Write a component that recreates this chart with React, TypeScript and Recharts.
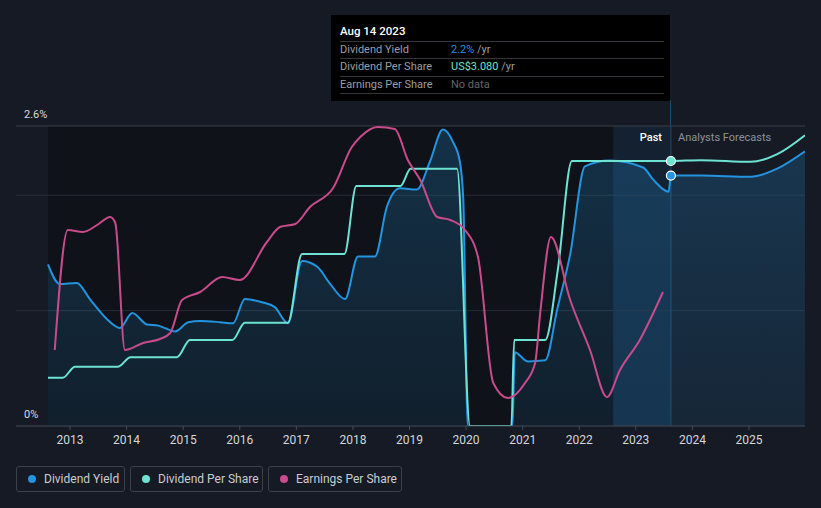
import React from "react";
import {
  ComposedChart,
  Area,
  Line,
  XAxis,
  YAxis,
  ReferenceArea,
  ReferenceLine,
  ReferenceDot,
} from "recharts";

// Dividend yield (%)
const yieldYears = [
  2012.61, 2012.82, 2013.12, 2013.35, 2013.71, 2013.88, 2014.1, 2014.36, 2014.56, 2014.86,
  2015.09, 2015.3, 2015.65, 2015.88, 2016.09, 2016.41, 2016.62, 2016.85, 2017.1, 2017.37,
  2017.6, 2017.86, 2018.09, 2018.39, 2018.6, 2018.83, 2019.13, 2019.36, 2019.59, 2019.77,
  2019.89, 2019.95, 2020.03, 2020.82, 2020.86, 2021.09, 2021.4, 2021.61, 2021.84, 2022.1,
  2022.54, 2023.13, 2023.3, 2023.58, 2023.62, 2024.15, 2025.03, 2025.5, 2025.99,
];
const yieldValues = [
  1.4, 1.23, 1.24, 1.1, 0.9, 0.85, 0.98, 0.88, 0.87, 0.82,
  0.9, 0.91, 0.9, 0.89, 1.1, 1.07, 1.03, 0.89, 1.43, 1.38,
  1.23, 1.1, 1.47, 1.47, 1.9, 2.06, 2.05, 2.29, 2.57, 2.46,
  2.29, 1.97, 0, 0, 0.64, 0.56, 0.57, 1.01, 1.49, 2.25,
  2.3, 2.24, 2.14, 2.03, 2.17, 2.17, 2.16, 2.23, 2.38,
];

// Dividend per share (US$)
const dpsYears = [
  2012.61, 2012.87, 2013.09, 2013.85, 2014.07, 2014.89, 2015.12, 2015.87, 2016.09, 2016.85,
  2017.1, 2017.85, 2018.06, 2018.84, 2019.02, 2019.84, 2020.07, 2020.8, 2020.85, 2021.4,
  2021.62, 2021.87, 2022.5, 2023.62, 2024.15, 2025.03, 2025.5, 2025.99,
];
const dpsValues = [
  0.56, 0.56, 0.69, 0.69, 0.8, 0.8, 1.0, 1.0, 1.2, 1.2,
  2.0, 2.0, 2.79, 2.79, 2.99, 2.99, 0, 0, 1.0, 1.0,
  1.81, 3.08, 3.08, 3.08, 3.09, 3.07, 3.16, 3.38,
];

// Earnings per share (US$)
const epsYears = [
  2012.73, 2012.96, 2013.23, 2013.48, 2013.71, 2013.8, 2013.97, 2014.29, 2014.59, 2014.77,
  2014.98, 2015.3, 2015.69, 2016.0, 2016.48, 2016.71, 2016.98, 2017.24, 2017.65, 2017.98,
  2018.13, 2018.44, 2018.74, 2018.97, 2019.19, 2019.49, 2019.72, 2019.98, 2020.21, 2020.48,
  2020.74, 2021.04, 2021.22, 2021.31, 2021.5, 2021.84, 2022.19, 2022.49, 2022.72, 2023.07,
  2023.48,
];
const epsValues = [
  1.52, 3.92, 3.88, 4.02, 4.18, 4.06, 1.52, 1.66, 1.74, 1.86,
  2.52, 2.68, 2.98, 2.92, 3.68, 3.98, 4.04, 4.38, 4.76, 5.58,
  5.78, 5.98, 5.94, 5.32, 4.92, 4.18, 4.12, 3.92, 3.38, 0.86,
  0.56, 0.86, 1.26, 2.26, 3.78, 2.52, 1.52, 0.58, 1.12, 1.72,
  2.68,
];

const yearTicks = [2013, 2014, 2015, 2016, 2017, 2018, 2019, 2020, 2021, 2022, 2023, 2024, 2025];
const yieldTicks = [0, 2.6];
const gridValues = [1, 2];

const dataStart = 2012.61;
const pastStart = 2022.6;
const today = 2023.62;
const todayYield = 2.17;
const todayDps = 3.08;

const yieldData = yieldYears.map((t, i) => ({ t, v: yieldValues[i] }));
const dpsData = dpsYears.map((t, i) => ({ t, v: dpsValues[i] }));
const epsData = epsYears.map((t, i) => ({ t, v: epsValues[i] }));

const BG = "#151a24";
const BLUE = "#2394df";
const TEAL = "#6ce3d3";
const PINK = "#c84b8c";
const FONT = "Roboto, 'Noto Sans', sans-serif";

const YTick = (props: any) => {
  const { y, payload } = props;
  return (
    <text x={24} y={y - 8} fill="#d8dbe0" fontSize={11} fontFamily={FONT}>
      {payload.value === 0 ? "0%" : `${payload.value}%`}
    </text>
  );
};

const legendItems = [
  { label: "Dividend Yield", color: BLUE, left: 16, width: 109 },
  { label: "Dividend Per Share", color: TEAL, left: 130, width: 133 },
  { label: "Earnings Per Share", color: PINK, left: 268, width: 134 },
];

export default function App() {
  return (
    <div
      style={{
        position: "absolute",
        left: 0,
        top: 0,
        width: 821,
        height: 508,
        background: BG,
        fontFamily: FONT,
        overflow: "hidden",
      }}
    >
      <ComposedChart
        width={821}
        height={508}
        margin={{ top: 126, right: 16, bottom: 52, left: 16 }}
      >
        <defs>
          <linearGradient id="yieldFill" x1="0" y1="0" x2="0" y2="1">
            <stop offset="0%" stopColor={BLUE} stopOpacity={0.24} />
            <stop offset="100%" stopColor={BLUE} stopOpacity={0.1} />
          </linearGradient>
          <linearGradient id="bandFill" x1="0" y1="0" x2="0" y2="1">
            <stop offset="0%" stopColor="#1d4468" stopOpacity={0.3} />
            <stop offset="100%" stopColor="#1d4c78" stopOpacity={0.42} />
          </linearGradient>
        </defs>
        <XAxis
          xAxisId="x"
          dataKey="t"
          type="number"
          domain={[2012.045, 2025.99]}
          allowDataOverflow
          ticks={yearTicks}
          height={30}
          stroke="#474c55"
          tickSize={4}
          tickMargin={5}
          tick={{ fill: "#d4d7dc", fontSize: 12, fontFamily: FONT }}
        />
        <YAxis
          yAxisId="yield"
          domain={[0, 2.6]}
          allowDataOverflow
          ticks={yieldTicks}
          mirror
          axisLine={false}
          tickLine={false}
          tick={<YTick />}
        />
        <YAxis yAxisId="dps" domain={[0, 3.4868]} allowDataOverflow hide />
        <YAxis yAxisId="eps" domain={[0, 6]} allowDataOverflow hide />

        <ReferenceArea
          xAxisId="x"
          yAxisId="yield"
          x1={dataStart}
          x2={today}
          y1={0}
          y2={2.6}
          fill="#0f1218"
          fillOpacity={1}
          stroke="none"
          zIndex={-300}
        />
        <ReferenceArea
          xAxisId="x"
          yAxisId="yield"
          x1={pastStart}
          x2={today}
          y1={0}
          y2={2.6}
          fill="url(#bandFill)"
          fillOpacity={1}
          stroke="none"
          zIndex={-250}
        />
        {gridValues.map((g) => (
          <ReferenceLine
            key={g}
            xAxisId="x"
            yAxisId="yield"
            y={g}
            stroke="#272c35"
            strokeWidth={1}
            zIndex={-200}
          />
        ))}
        <ReferenceLine
          xAxisId="x"
          yAxisId="yield"
          y={2.6}
          stroke="#3a3f48"
          strokeWidth={1}
          zIndex={-200}
        />
        <ReferenceLine
          xAxisId="x"
          yAxisId="yield"
          x={today}
          stroke="#1d4a70"
          strokeWidth={1}
          zIndex={-150}
        />

        <Area
          xAxisId="x"
          yAxisId="yield"
          data={yieldData}
          dataKey="v"
          type="monotone"
          stroke={BLUE}
          strokeWidth={2}
          fill="url(#yieldFill)"
          fillOpacity={1}
          dot={false}
          activeDot={false}
          isAnimationActive={false}
        />
        <Line
          xAxisId="x"
          yAxisId="dps"
          data={dpsData}
          dataKey="v"
          type="monotone"
          stroke={TEAL}
          strokeWidth={2}
          dot={false}
          activeDot={false}
          isAnimationActive={false}
        />
        <Line
          xAxisId="x"
          yAxisId="eps"
          data={epsData}
          dataKey="v"
          type="monotone"
          stroke={PINK}
          strokeWidth={2}
          dot={false}
          activeDot={false}
          isAnimationActive={false}
        />
        <ReferenceDot
          xAxisId="x"
          yAxisId="dps"
          x={today}
          y={todayDps}
          r={4.5}
          fill={TEAL}
          stroke="#ffffff"
          strokeWidth={1.2}
        />
        <ReferenceDot
          xAxisId="x"
          yAxisId="yield"
          x={today}
          y={todayYield}
          r={4.5}
          fill={BLUE}
          stroke="#ffffff"
          strokeWidth={1.2}
        />
      </ComposedChart>

      {/* Past / forecast labels */}
      <div
        style={{
          position: "absolute",
          right: 821 - 662,
          top: 131,
          fontSize: 11,
          color: "#ffffff",
          fontWeight: 500,
        }}
      >
        Past
      </div>
      <div
        style={{
          position: "absolute",
          left: 678,
          top: 131,
          fontSize: 11,
          color: "#8d929a",
        }}
      >
        Analysts Forecasts
      </div>

      {/* connector line above plot */}
      <div
        style={{
          position: "absolute",
          left: 670,
          top: 100,
          width: 1,
          height: 26,
          background: "#1d4a70",
        }}
      />

      {/* Tooltip box */}
      <div
        style={{
          position: "absolute",
          left: 331,
          top: 15,
          width: 339,
          height: 86,
          background: "#000000",
          fontSize: 11,
        }}
      >
        <div style={{ position: "absolute", left: 9, top: 9, color: "#ffffff", fontSize: 11.5, fontWeight: 500 }}>
          Aug 14 2023
        </div>
        {[26, 43, 61, 78].map((y) => (
          <div
            key={y}
            style={{ position: "absolute", left: 9, top: y, width: 324, height: 1, background: "#34373c" }}
          />
        ))}
        <div style={{ position: "absolute", left: 9, top: 28, color: "#9a9ea6" }}>Dividend Yield</div>
        <div style={{ position: "absolute", left: 120, top: 28, color: "#9a9ea6" }}>
          <span style={{ color: BLUE }}>2.2%</span> /yr
        </div>
        <div style={{ position: "absolute", left: 9, top: 45, color: "#9a9ea6" }}>Dividend Per Share</div>
        <div style={{ position: "absolute", left: 120, top: 45, color: "#9a9ea6" }}>
          <span style={{ color: TEAL }}>US$3.080</span> /yr
        </div>
        <div style={{ position: "absolute", left: 9, top: 63, color: "#9a9ea6" }}>Earnings Per Share</div>
        <div style={{ position: "absolute", left: 120, top: 63, color: "#62666d" }}>No data</div>
      </div>

      {/* Legend */}
      {legendItems.map((it) => (
        <div
          key={it.label}
          style={{
            position: "absolute",
            left: it.left,
            top: 466,
            width: it.width,
            height: 26,
            boxSizing: "border-box",
            border: "1px solid #3b4049",
            borderRadius: 3,
          }}
        >
          <div
            style={{
              position: "absolute",
              left: 11,
              top: 8,
              width: 8,
              height: 8,
              borderRadius: 4,
              background: it.color,
            }}
          />
          <div
            style={{
              position: "absolute",
              left: 27,
              top: 5,
              fontSize: 12,
              color: "#c9cdd3",
              whiteSpace: "nowrap",
            }}
          >
            {it.label}
          </div>
        </div>
      ))}
    </div>
  );
}
